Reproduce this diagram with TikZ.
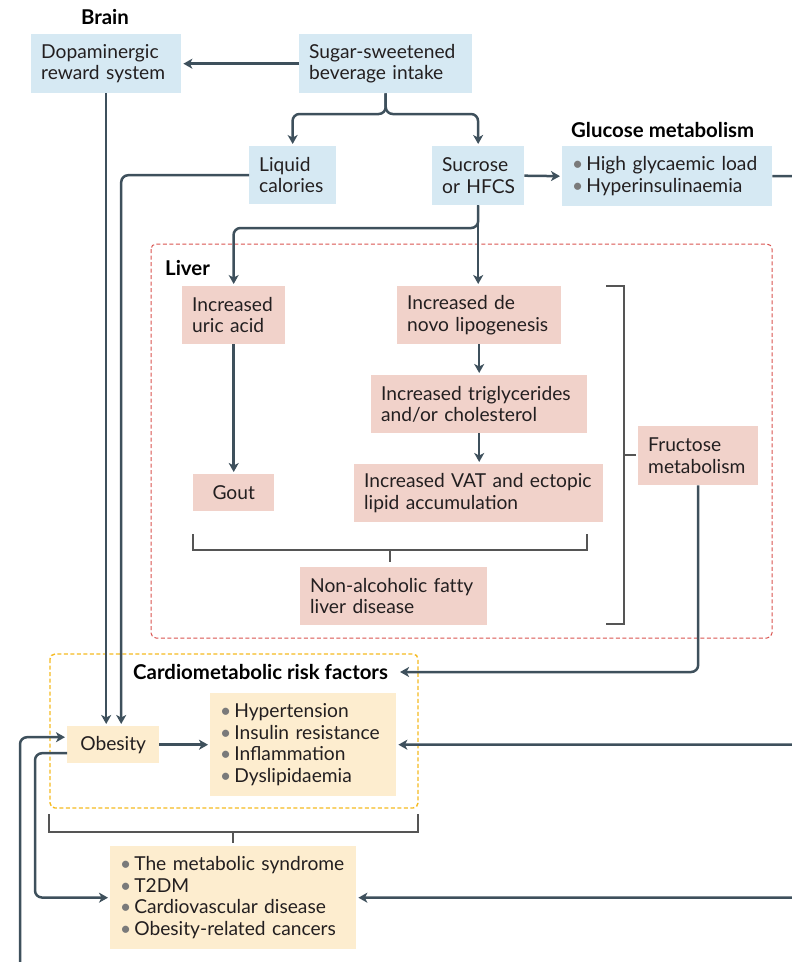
\documentclass[tikz,border=0pt]{standalone}
\usepackage{fontspec}
\setmainfont{Lato}
\usetikzlibrary{arrows.meta,calc}
\definecolor{bluefill}{HTML}{D6E9F3}
\definecolor{pinkfill}{HTML}{F1D2CA}
\definecolor{yelfill}{HTML}{FDEDCF}
\definecolor{linec}{HTML}{3E505C}
\definecolor{brackc}{HTML}{555555}
\definecolor{redd}{HTML}{D9534F}
\definecolor{yeld}{HTML}{F5BA20}
\definecolor{txt}{HTML}{231F20}
\definecolor{bul}{HTML}{7A7A7A}
\newcommand{\bu}{{\color{bul}\textbullet}\hspace{3pt}}
\hyphenpenalty=10000
\exhyphenpenalty=10000
\hbadness=10000
\hfuzz=40pt
\begin{document}
\begin{tikzpicture}[x=1pt,y=-1pt,
  bx/.style={anchor=north west, inner xsep=10pt, inner ysep=0pt, align=left,
    font=\fontsize{19.2}{21.5}\selectfont, text=txt},
  cbx/.style={anchor=north west, inner sep=0pt, align=center,
    font=\fontsize{19.2}{21.5}\selectfont, text=txt},
  ttl/.style={font=\bfseries\fontsize{20.4}{22}\selectfont, text=black, inner sep=0pt},
  ln/.style={draw=linec, line width=2.5pt},
  arr/.style={ln, -{Stealth[length=9pt,width=10pt,inset=2.5pt]}, shorten >=2pt},
  brk/.style={draw=brackc, line width=1.2pt},
]
\useasboundingbox (0,0) rectangle (792,962);

% dashed containers
\draw[redd, line width=1pt, dash pattern=on 4pt off 2.5pt, rounded corners=5pt] (151,244) rectangle (772,638);
\draw[yeld, line width=1.4pt, dash pattern=on 4pt off 2.5pt, rounded corners=5pt] (50,654) rectangle (418,808);

% titles
\node[ttl] (brain) at (105,17) {Brain};
\node[ttl, anchor=west] (gluttl) at (571,130) {Glucose metabolism};
\node[ttl, anchor=west] (liver) at (165,268) {Liver};
\node[ttl, anchor=west] (cmr) at (133,672) {Cardiometabolic risk factors};

% blue boxes
\node[bx, fill=bluefill, minimum width=150pt, minimum height=59pt, text width=130pt] (dopa) at (31,34) {Dopaminergic\\reward~system};
\node[bx, fill=bluefill, minimum width=173pt, minimum height=59pt, text width=153pt] (ssb) at (299,34) {Sugar-sweetened\\beverage~intake};
\node[bx, fill=bluefill, minimum width=87pt, minimum height=58pt, text width=67pt] (liq) at (249,146) {Liquid\\calories};
\node[bx, fill=bluefill, minimum width=92pt, minimum height=59pt, text width=72pt] (suc) at (432,146) {Sucrose\\or~HFCS};
\node[bx, fill=bluefill, minimum width=210pt, minimum height=60pt, text width=190pt] (glu) at (562,146) {\bu High~glycaemic~load\\\bu Hyperinsulinaemia};

% pink boxes
\node[bx, fill=pinkfill, minimum width=103pt, minimum height=58pt, text width=83pt] (uric) at (182,286) {Increased\\uric~acid};
\node[cbx, fill=pinkfill, minimum width=81pt, minimum height=37pt] (gout) at (193,474) {Gout};
\node[bx, fill=pinkfill, minimum width=164pt, minimum height=58pt, text width=144pt] (dnl) at (397,286) {Increased~de\\novo~lipogenesis};
\node[bx, fill=pinkfill, minimum width=216pt, minimum height=58pt, text width=196pt] (tg) at (371,375) {Increased~triglycerides\\and/or~cholesterol};
\node[bx, fill=pinkfill, minimum width=249pt, minimum height=58pt, text width=229pt] (vat) at (354,464) {Increased~VAT~and~ectopic\\lipid~accumulation};
\node[bx, fill=pinkfill, minimum width=187pt, minimum height=58pt, text width=167pt] (nafld) at (300,567) {Non-alcoholic~fat\kern0pt ty\\liver~disease};
\node[bx, fill=pinkfill, minimum width=120pt, minimum height=59pt, text width=100pt] (fru) at (638,426) {Fructose\\metabolism};

% yellow boxes
\node[cbx, fill=yelfill, minimum width=92pt, minimum height=37pt] (obes) at (67,726) {Obesity};
\node[bx, fill=yelfill, minimum width=186pt, minimum height=103pt, text width=166pt] (risk) at (210,693) {\bu Hypertension\\\bu Insulin~resistance\\\bu Inflammation\\\bu Dyslipidaemia};
\node[bx, fill=yelfill, minimum width=246pt, minimum height=103pt, text width=226pt] (outc) at (110,846) {\bu The~metabolic~syndrome\\\bu T2DM\\\bu Cardiovascular~disease\\\bu Obesity-related~cancers};

% free ends at the picture's edges
\coordinate (gluout) at (792,176);
\coordinate (rin) at (792,744.5);
\coordinate (oin) at (792,897.5);
\coordinate (bin) at (20,962);
\coordinate (f1) at (292.5,114);
\coordinate (f2) at (478,114);
\coordinate (ub) at (233.5,228);

% connectors
\draw[arr] (ssb.west) -- (dopa.east);
\draw[arr, rounded corners=7pt] (ssb.south) |- (f1) -- (liq.north);
\draw[arr, rounded corners=7pt] (ssb.south) |- (f2) -- (suc.north);
\draw[arr] (suc.east) -- (glu.west);
\draw[ln] (glu.east) -- (gluout);
\draw[arr] (dopa.south) -- (dopa.south |- obes.north);
\draw[arr, rounded corners=7pt] (liq.west) -| ([xshift=8pt]obes.north);
\draw[arr] (suc.south) -- (suc.south |- dnl.north);
\draw[arr, rounded corners=7pt] (suc.south) |- (ub) -- (uric.north);
\draw[arr] (uric.south) -- (gout.north);
\draw[arr] (dnl.south) -- (dnl.south |- tg.north);
\draw[arr] (tg.south) -- (tg.south |- vat.north);
\draw[arr, rounded corners=7pt] (fru.south) |- ([xshift=10pt]cmr.east);
\draw[arr] (obes.east) -- (risk.west);
\draw[arr] (rin) -- (risk.east);
\draw[arr] (oin) -- (outc.east);
\draw[arr, rounded corners=7pt] ([yshift=-8.5pt]obes.west) -| (35,897.5) -- (outc.west);
\draw[arr, rounded corners=7pt] (bin) |- ([yshift=7.5pt]obes.west);

% brackets
\draw[brk] (193,534) -- (193,550) -- (587,550) -- (587,534);
\draw[brk] (390,550) -- (390,562);
\draw[brk] (606,286) -- (624,286) -- (624,624) -- (606,624);
\draw[brk] (624,455) -- (636,455);
\draw[brk] (49,814) -- (49,832) -- (418,832) -- (418,814);
\draw[brk] (233,832) -- (233,843);
\end{tikzpicture}
\end{document}
